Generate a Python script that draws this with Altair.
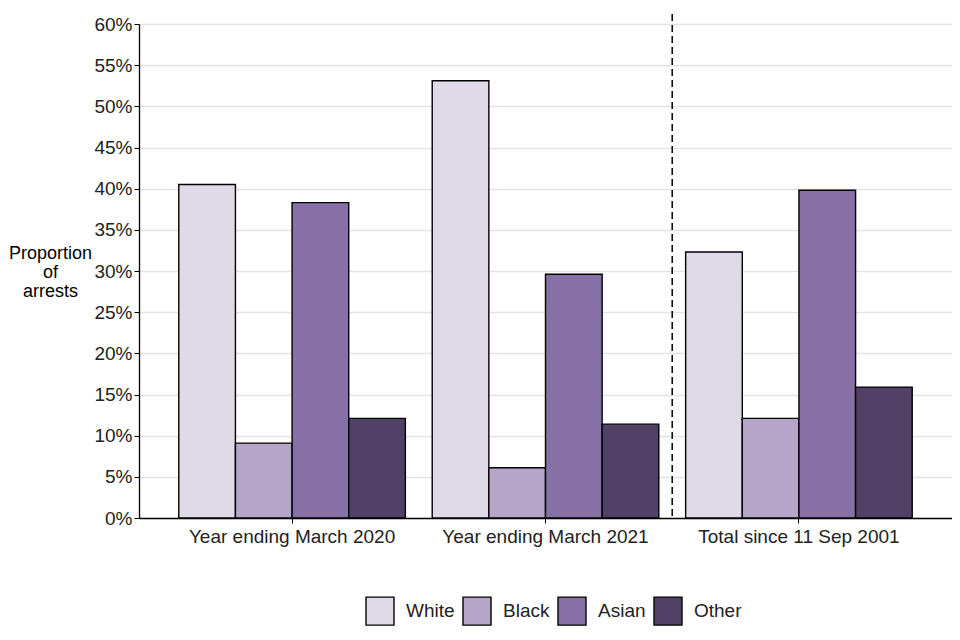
import altair as alt
import pandas as pd

periods = ["Year ending March 2020", "Year ending March 2021", "Total since 11 Sep 2001"]
groups = ["White", "Black", "Asian", "Other"]
values = {
    "Year ending March 2020": [0.405, 0.091, 0.383, 0.121],
    "Year ending March 2021": [0.531, 0.061, 0.296, 0.114],
    "Total since 11 Sep 2001": [0.323, 0.121, 0.398, 0.159],
}
colors = ["#e0dae8", "#b4a5c9", "#8670a5", "#524166"]
y_ticks = [0, 0.05, 0.10, 0.15, 0.20, 0.25, 0.30, 0.35, 0.40, 0.45, 0.50, 0.55, 0.60]

rows = []
for p in periods:
    for g, v in zip(groups, values[p]):
        rows.append({"period": p, "group": g, "value": v})
df = pd.DataFrame(rows)

FONT = "Liberation Sans"
W, H = 813, 494
PAD_INNER = 0.106
PAD_OUTER = 0.157
TXT = "#222222"
STEP = W / (len(periods) - PAD_INNER + 2 * PAD_OUTER)

x_scale = alt.Scale(domain=periods, paddingInner=PAD_INNER, paddingOuter=PAD_OUTER)

bars = alt.Chart(df).mark_bar(stroke="black", strokeWidth=1.4).encode(
    x=alt.X("period:N", scale=x_scale, sort=periods,
            axis=alt.Axis(title=None, labelAngle=0, labelFont=FONT, labelFontSize=19,
                          labelColor=TXT, labelLimit=400, domainColor="black", domainWidth=1.3,
                          tickColor="black", tickSize=5, labelPadding=4, grid=False)),
    xOffset=alt.XOffset("group:N", sort=groups,
                        scale=alt.Scale(domain=groups, paddingInner=0, paddingOuter=0)),
    y=alt.Y("value:Q", scale=alt.Scale(domain=[0, 0.6], nice=False),
            axis=alt.Axis(values=y_ticks, format=".0%", title=["Proportion", "of", "arrests"],
                          titleAngle=0, titleAlign="center", titleBaseline="middle",
                          titleX=-89, titleY=229, titleFont=FONT, titleFontSize=18,
                          titleFontWeight="normal", titleColor="black", titleLineHeight=19,
                          labelFont=FONT, labelFontSize=19, labelColor=TXT, labelPadding=2,
                          domainColor="black", domainWidth=1.3, tickColor="black", tickSize=5,
                          grid=True, gridColor="#e3e3e3", gridWidth=1.5)),
    color=alt.Color("group:N", sort=groups,
                    scale=alt.Scale(domain=groups, range=colors),
                    legend=alt.Legend(title=None, orient="none", direction="horizontal",
                                      legendX=226, legendY=572,
                                      symbolType="square", symbolSize=784,
                                      symbolStrokeColor="black", symbolStrokeWidth=1.4,
                                      labelFont=FONT, labelFontSize=19, labelColor=TXT,
                                      labelOffset=11, columnPadding=5)),
)

sep_df = pd.DataFrame({"period": [periods[2]]})
sep = alt.Chart(sep_df).mark_rule(color="black", strokeWidth=1.5, strokeDash=[7, 4]).encode(
    x=alt.X("period:N", bandPosition=0),
    xOffset=alt.value(-PAD_INNER * STEP / 2),
    y=alt.value(-10),
    y2=alt.value(H),
)

chart = alt.layer(bars, sep).properties(
    width=W, height=H,
    autosize=alt.AutoSizeParams(type="none"),
    padding={"left": 131, "top": 16, "right": 0, "bottom": 110},
    background="white",
).configure_view(stroke="transparent")

chart.save("out.html", embed_options={"renderer": "svg", "actions": False})
